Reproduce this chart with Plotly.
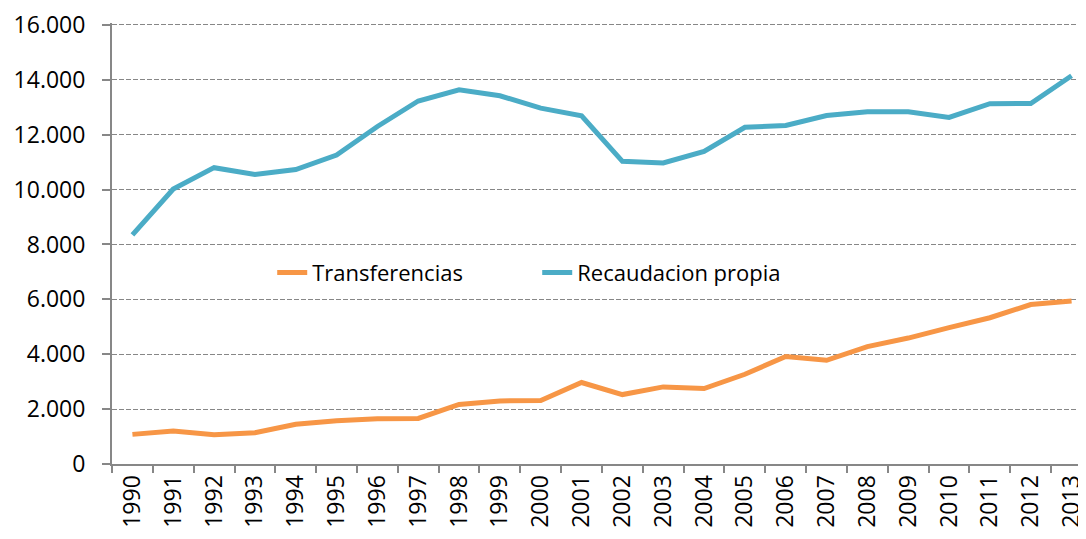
import plotly.graph_objects as go

years = [str(y) for y in range(1990, 2014)]
transferencias = [1080, 1200, 1070, 1140, 1450, 1580, 1650, 1660, 2170, 2300, 2310, 2970,
                  2530, 2810, 2750, 3270, 3920, 3780, 4280, 4590, 4970, 5330, 5810, 5940]
recaudacion = [8350, 10020, 10800, 10550, 10730, 11260, 12300, 13230, 13640, 13420, 12970, 12690,
               11030, 10970, 11390, 12270, 12340, 12700, 12840, 12840, 12630, 13130, 13140, 14150]
y_ticks = [0, 2000, 4000, 6000, 8000, 10000, 12000, 14000, 16000]

FONT = "Open Sans"
GRAY = "#878787"

fig = go.Figure()
fig.add_trace(go.Scatter(x=years, y=transferencias, mode="lines", name="Transferencias",
                         line=dict(color="#F79646", width=5)))
fig.add_trace(go.Scatter(x=years, y=recaudacion, mode="lines", name="Recaudacion propia",
                         line=dict(color="#4BACC6", width=5)))

fig.update_layout(
    width=1078, height=531,
    margin=dict(l=104, r=0, t=14, b=75),
    paper_bgcolor="white", plot_bgcolor="white",
    font=dict(family=FONT, size=22, color="#000000"),
    separators=",.",
    showlegend=True,
    legend=dict(orientation="h", x=0.165, y=0.434, xanchor="left", yanchor="middle",
                bgcolor="rgba(0,0,0,0)", font=dict(size=22),
                entrywidth=220, entrywidthmode="pixels"),
    xaxis=dict(type="category", range=[-0.5, 23.28],
               showline=True, linecolor=GRAY, linewidth=2,
               ticks="outside", tickson="boundaries", ticklen=7, tickcolor=GRAY, tickwidth=2,
               tickangle=-90, showgrid=False, zeroline=False,
               tickfont=dict(size=23, family=FONT)),
    yaxis=dict(range=[0, 16072], tickvals=y_ticks, tickformat=",d",
               showline=True, linecolor=GRAY, linewidth=2,
               ticks="outside", ticklen=8, tickcolor=GRAY, tickwidth=2,
               showgrid=True, gridcolor=GRAY, gridwidth=1.3, griddash="4.5px,2.5px",
               zeroline=False, ticklabelstandoff=12, ticklabeloverflow="allow",
               tickfont=dict(size=23, family=FONT)),
)

fig.write_html("out.html")
